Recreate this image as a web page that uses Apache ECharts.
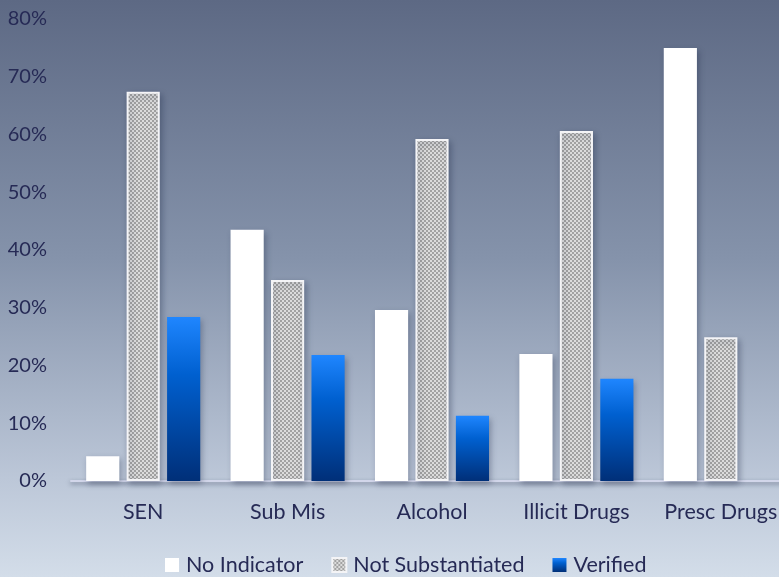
<!DOCTYPE html>
<html><head><meta charset="utf-8">
<script src="https://cdn.jsdelivr.net/npm/echarts@6/dist/echarts.min.js"></script>
<style>
html,body{margin:0;padding:0;overflow:hidden;width:779px;height:577px;}
#c{width:810px;height:577px;background:linear-gradient(to bottom,#5d6984 0%,#8593ab 45%,#bcc7d8 83%,#d3dde9 100%);}
</style></head><body>
<div id="c"></div>
<script>
const categories = ['SEN','Sub Mis','Alcohol','Illicit Drugs','Presc Drugs'];
const noIndicator = [4.3, 43.5, 29.6, 22.0, 75.0];
const notSubstantiated = [67.4, 34.8, 59.2, 60.6, 24.9];
const verified = [28.4, 21.8, 11.3, 17.7, 0];
const yTicks = [0,10,20,30,40,50,60,70,80];

const pc = document.createElement('canvas');
pc.width = 4; pc.height = 4;
const g = pc.getContext('2d');
g.fillStyle = '#dcdcdc'; g.fillRect(0,0,4,4);
g.fillStyle = '#a2a2a2';
g.fillRect(0,0,2,2); g.fillRect(2,2,2,2);
const pattern = {image: pc, repeat: 'repeat'};

const textColor = '#262a55';
const font = 'Lato';
const shadow = {shadowBlur: 6, shadowColor: 'rgba(30,40,70,0.35)', shadowOffsetX: 2, shadowOffsetY: 3};

const chart = echarts.init(document.getElementById('c'), null, {renderer: 'canvas'});
chart.setOption({
  backgroundColor: 'transparent',
  animation: false,
  textStyle: {fontFamily: font},
  grid: {left: 71, top: 19, width: 722, bottom: 96},
  legend: {
    bottom: -4, left: 160, itemWidth: 14, itemHeight: 14, itemGap: 28,
    icon: 'rect',
    textStyle: {color: textColor, fontSize: 21.5, fontFamily: font, padding: [0,0,0,2]},
    data: ['No Indicator','Not Substantiated','Verified']
  },
  xAxis: {
    type: 'category', data: categories,
    axisLine: {lineStyle: {color: '#d2d6ea', width: 2, shadowBlur: 4, shadowColor: 'rgba(30,40,70,0.5)', shadowOffsetY: 2}},
    axisTick: {show: false},
    axisLabel: {color: textColor, fontSize: 21.5, margin: 20, interval: 0, fontFamily: font}
  },
  yAxis: {
    type: 'value', min: yTicks[0], max: yTicks[yTicks.length-1], interval: 10,
    axisLine: {show: false}, axisTick: {show: false}, splitLine: {show: false},
    axisLabel: {color: textColor, fontSize: 20, margin: 24, formatter: v => v + '%', fontFamily: font}
  },
  series: [
    {name: 'No Indicator', type: 'bar', data: noIndicator, barGap: '22%', barCategoryGap: '21%',
     itemStyle: Object.assign({color: '#ffffff'}, shadow)},
    {name: 'Not Substantiated', type: 'bar', data: notSubstantiated,
     itemStyle: Object.assign({color: pattern, borderColor: '#f4f4f6', borderWidth: 2}, shadow)},
    {name: 'Verified', type: 'bar', data: verified,
     itemStyle: Object.assign({color: new echarts.graphic.LinearGradient(0,0,0,1,[{offset:0,color:'#1f86ff'},{offset:0.35,color:'#0060d0'},{offset:1,color:'#002f78'}])}, shadow)}
  ]
});
</script>
</body></html>
